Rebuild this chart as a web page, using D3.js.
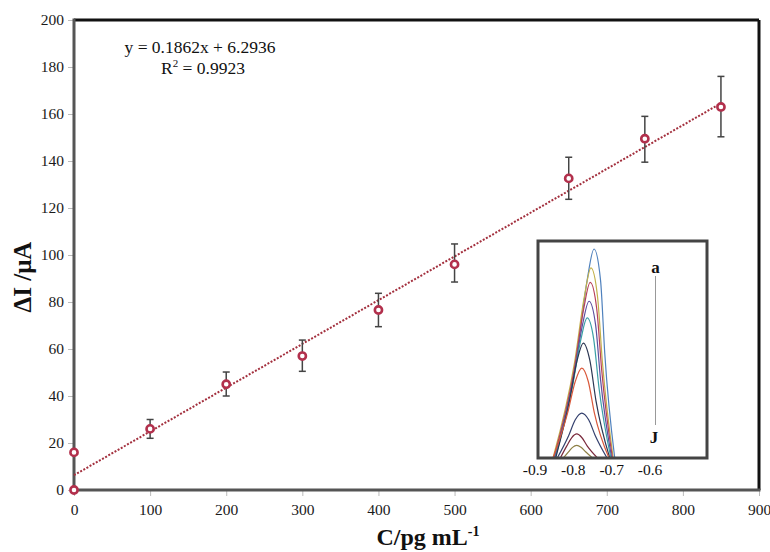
<!DOCTYPE html>
<html>
<head>
<meta charset="utf-8">
<script src="https://cdnjs.cloudflare.com/ajax/libs/d3/7.8.5/d3.min.js"></script>
<style>
  body { margin: 0; background: #fff; }
  text { font-family: "Liberation Serif", "DejaVu Serif", serif; }
</style>
</head>
<body>
<div id="chart"></div>
<script>
// calibration points (C in pg/mL, delta I in uA)
const conc = [0, 0, 100, 200, 300, 400, 500, 650, 750, 850];
const deltaI = [0, 16, 26, 45, 57, 76.6, 96, 132.6, 149.5, 163];
const errLow = [null, null, 22, 40, 50.5, 69.5, 88.5, 123.7, 139.5, 150.3];
const errHigh = [null, null, 30, 50.2, 63.8, 83.7, 104.7, 141.6, 159, 176];

const slope = 0.1862;
const intercept = 6.2936;
const fitRange = [0, 850];

const xTicks = [0, 100, 200, 300, 400, 500, 600, 700, 800, 900];
const yTicks = [0, 20, 40, 60, 80, 100, 120, 140, 160, 180, 200];

// inset voltammograms a..J (potential / V, current in arbitrary units)
const insetPot = [
  [-0.850, -0.790, -0.764, -0.746, -0.729, -0.718, -0.692],
  [-0.853, -0.797, -0.771, -0.754, -0.737, -0.724, -0.696],
  [-0.851, -0.798, -0.773, -0.756, -0.739, -0.726, -0.698],
  [-0.849, -0.800, -0.776, -0.759, -0.742, -0.729, -0.700],
  [-0.847, -0.803, -0.780, -0.764, -0.747, -0.733, -0.702],
  [-0.846, -0.810, -0.790, -0.774, -0.757, -0.741, -0.705],
  [-0.853, -0.815, -0.795, -0.778, -0.761, -0.745, -0.707],
  [-0.842, -0.812, -0.795, -0.778, -0.760, -0.743, -0.712],
  [-0.834, -0.817, -0.804, -0.791, -0.778, -0.764, -0.737],
  [-0.826, -0.812, -0.802, -0.791, -0.780, -0.768, -0.750]
];
const insetCur = [
  [0, 50, 85, 100, 85, 50, 0],
  [0, 45.5, 77.4, 91, 77.4, 45.5, 0],
  [0, 42, 71.4, 84, 71.4, 42, 0],
  [0, 37.5, 63.8, 75, 63.8, 37.5, 0],
  [0, 33.5, 57, 67, 57, 33.5, 0],
  [0, 27.5, 46.8, 55, 46.8, 27.5, 0],
  [0, 21.5, 36.6, 43, 36.6, 21.5, 0],
  [0, 10.8, 18.3, 21.5, 18.3, 10.8, 0],
  [0, 5.8, 9.8, 11.5, 9.8, 5.8, 0],
  [0, 3, 5.1, 6, 5.1, 3, 0]
];
const insetColors = ["#4f81bd", "#c2b04a", "#b8405a", "#5b4f9e", "#3a9fa6",
                     "#2b3652", "#d9583a", "#34406e", "#7a2a3c", "#8d7f44"];
const insetTicks = [-0.9, -0.8, -0.7, -0.6];

const W = 770, H = 552;
const margin = { top: 20, right: 11, bottom: 62, left: 74 };
const width = W - margin.left - margin.right;
const height = H - margin.top - margin.bottom;

const svg = d3.select("#chart").append("svg")
    .attr("width", W)
    .attr("height", H);

const g = svg.append("g")
    .attr("transform", `translate(${margin.left},${margin.top})`);

const x = d3.scaleLinear().domain([0, 900]).range([0, width]);
const y = d3.scaleLinear().domain([0, 200]).range([height, 0]);

// ticks
const xAxis = g.append("g")
    .attr("transform", `translate(0,${height})`)
    .call(d3.axisBottom(x).tickValues(xTicks).tickSize(6).tickPadding(8));
const yAxis = g.append("g")
    .call(d3.axisLeft(y).tickValues(yTicks).tickSize(6).tickPadding(4));
[xAxis, yAxis].forEach(a => {
    a.select(".domain").remove();
    a.selectAll(".tick line").attr("stroke", "#bbb");
    a.selectAll(".tick text")
        .attr("fill", "#1a1a1a")
        .style("font-family", "'Liberation Serif', serif")
        .style("font-size", "15.5px");
});

// frame: grey left/bottom axes, black top/right
g.append("line").attr("x1", 0).attr("x2", width).attr("y1", 0).attr("y2", 0)
    .attr("stroke", "#111").attr("stroke-width", 3);
g.append("line").attr("x1", width).attr("x2", width).attr("y1", 0).attr("y2", height)
    .attr("stroke", "#111").attr("stroke-width", 3);
g.append("line").attr("x1", 0).attr("x2", 0).attr("y1", -1.5).attr("y2", height)
    .attr("stroke", "#555").attr("stroke-width", 3);
g.append("line").attr("x1", 0).attr("x2", width + 1.5).attr("y1", height).attr("y2", height)
    .attr("stroke", "#555").attr("stroke-width", 3);

// fitted line
g.append("path")
    .datum(fitRange)
    .attr("fill", "none")
    .attr("stroke", "#a3303e")
    .attr("stroke-width", 2)
    .attr("stroke-dasharray", "2,1.6")
    .attr("d", d3.line().x(d => x(d)).y(d => y(slope * d + intercept)));

// error bars
const pts = conc.map((c, i) => ({ c, v: deltaI[i], lo: errLow[i], hi: errHigh[i] }));
const eb = g.append("g").selectAll("g")
    .data(pts.filter(d => d.lo !== null))
    .join("g")
    .attr("stroke", "#444")
    .attr("stroke-width", 1.5);
eb.append("line")
    .attr("x1", d => x(d.c)).attr("x2", d => x(d.c))
    .attr("y1", d => y(d.lo)).attr("y2", d => y(d.hi));
eb.append("line")
    .attr("x1", d => x(d.c) - 3.5).attr("x2", d => x(d.c) + 3.5)
    .attr("y1", d => y(d.hi)).attr("y2", d => y(d.hi));
eb.append("line")
    .attr("x1", d => x(d.c) - 3.5).attr("x2", d => x(d.c) + 3.5)
    .attr("y1", d => y(d.lo)).attr("y2", d => y(d.lo));

// markers
g.append("g").selectAll("circle")
    .data(pts)
    .join("circle")
    .attr("cx", d => x(d.c))
    .attr("cy", d => y(d.v))
    .attr("r", 3.6)
    .attr("fill", "#fff")
    .attr("stroke", "#b2304c")
    .attr("stroke-width", 2.6);

// equation
g.append("text")
    .attr("x", 126).attr("y", 33)
    .attr("text-anchor", "middle")
    .style("font-size", "17.5px")
    .attr("fill", "#111")
    .text("y = 0.1862x + 6.2936");
const r2 = g.append("text")
    .attr("x", 129).attr("y", 54)
    .attr("text-anchor", "middle")
    .style("font-size", "17.5px")
    .attr("fill", "#111");
r2.append("tspan").text("R");
r2.append("tspan").attr("dy", -7).style("font-size", "11px").text("2");
r2.append("tspan").attr("dy", 7).text(" = 0.9923");

// axis titles
g.append("text")
    .attr("transform", "rotate(-90)")
    .attr("x", -(277 - margin.top))
    .attr("y", -margin.left + 31)
    .attr("text-anchor", "middle")
    .style("font-size", "25px")
    .style("font-weight", "bold")
    .attr("fill", "#111")
    .text("ΔI /μA");

const xt = g.append("text")
    .attr("x", 428 - margin.left)
    .attr("y", 545 - margin.top)
    .attr("text-anchor", "middle")
    .style("font-size", "24px")
    .style("font-weight", "bold")
    .attr("fill", "#111");
xt.append("tspan").text("C/pg mL");
xt.append("tspan").attr("dy", -9).style("font-size", "14px").text("-1");

// inset
const inset = { left: 538, top: 241, right: 707, bottom: 458 };
const ix = d3.scaleLinear().domain([-0.9, -0.6]).range([535, 650]);
const iy = d3.scaleLinear().domain([0, 100]).range([inset.bottom, 249]);

svg.append("clipPath").attr("id", "insetClip")
    .append("rect")
    .attr("x", inset.left).attr("y", inset.top)
    .attr("width", inset.right - inset.left)
    .attr("height", inset.bottom - inset.top);

svg.append("rect")
    .attr("x", inset.left).attr("y", inset.top)
    .attr("width", inset.right - inset.left)
    .attr("height", inset.bottom - inset.top)
    .attr("fill", "#fff");

const curveLine = d3.line()
    .x(d => ix(d[0]))
    .y(d => iy(d[1]))
    .curve(d3.curveMonotoneX);

svg.append("g")
    .attr("clip-path", "url(#insetClip)")
    .selectAll("path")
    .data(insetPot.map((p, i) => p.map((v, j) => [v, insetCur[i][j]])))
    .join("path")
    .attr("fill", "none")
    .attr("stroke", (d, i) => insetColors[i])
    .attr("stroke-width", 1.2)
    .attr("d", curveLine);

svg.append("rect")
    .attr("x", inset.left).attr("y", inset.top)
    .attr("width", inset.right - inset.left)
    .attr("height", inset.bottom - inset.top)
    .attr("fill", "none")
    .attr("stroke", "#444")
    .attr("stroke-width", 3);

svg.append("g").selectAll("text")
    .data(insetTicks)
    .join("text")
    .attr("x", d => ix(d))
    .attr("y", 475)
    .attr("text-anchor", "middle")
    .style("font-size", "15.5px")
    .attr("fill", "#111")
    .text(d => d.toFixed(1));

// a -> J marker
svg.append("line")
    .attr("x1", 655.5).attr("x2", 655.5)
    .attr("y1", 276).attr("y2", 425)
    .attr("stroke", "#999").attr("stroke-width", 1);
svg.append("text")
    .attr("x", 655.5).attr("y", 273)
    .attr("text-anchor", "middle")
    .style("font-size", "17px").style("font-weight", "bold")
    .attr("fill", "#111")
    .text("a");
svg.append("text")
    .attr("x", 654).attr("y", 443)
    .attr("text-anchor", "middle")
    .style("font-size", "17px").style("font-weight", "bold")
    .attr("fill", "#111")
    .text("J");
</script>
</body>
</html>
